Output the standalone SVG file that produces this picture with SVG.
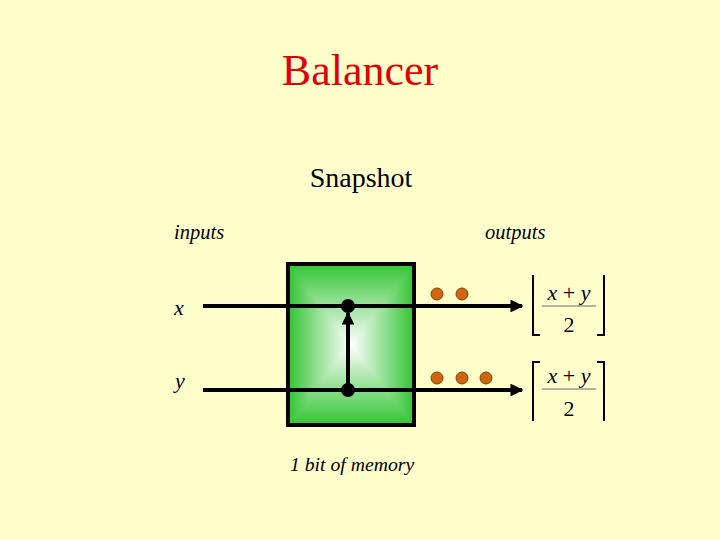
<svg xmlns="http://www.w3.org/2000/svg" width="720" height="540" viewBox="0 0 720 540">
<defs>
<style>
.serif{font-family:"Liberation Serif","Times New Roman",serif}
.it{font-style:italic}
.wire{stroke:#000;stroke-width:4;fill:none}
.br{stroke:#000;stroke-width:2;fill:none}
.dot{fill:#CC6611;stroke:#8a3a00;stroke-width:1}
</style>
<radialGradient id="gC" cx="0.5" cy="0.5" r="0.55"><stop offset="0" stop-color="#ffffff"/><stop offset="1" stop-color="#33C433"/></radialGradient>
<linearGradient id="gT" gradientUnits="userSpaceOnUse" x1="0" y1="264" x2="0" y2="344.5"><stop offset="0" stop-color="#33C433"/><stop offset="1" stop-color="#ffffff"/></linearGradient>
<linearGradient id="gB" gradientUnits="userSpaceOnUse" x1="0" y1="425" x2="0" y2="344.5"><stop offset="0" stop-color="#33C433"/><stop offset="1" stop-color="#ffffff"/></linearGradient>
<linearGradient id="gL" gradientUnits="userSpaceOnUse" x1="288" y1="0" x2="351" y2="0"><stop offset="0" stop-color="#33C433"/><stop offset="1" stop-color="#ffffff"/></linearGradient>
<linearGradient id="gR" gradientUnits="userSpaceOnUse" x1="414" y1="0" x2="351" y2="0"><stop offset="0" stop-color="#33C433"/><stop offset="1" stop-color="#ffffff"/></linearGradient>
<marker id="ah" viewBox="0 0 10 10" refX="9" refY="5" markerWidth="3.2" markerHeight="3.2" orient="auto"><path d="M0,0 L10,5 L0,10 z" fill="#000"/></marker>
</defs>
<rect width="720" height="540" fill="#FFFFCC"/>
<text class="serif" x="360" y="85" font-size="44" fill="#E00000" text-anchor="middle">Balancer</text>
<text class="serif" x="361" y="187" font-size="28" fill="#000" text-anchor="middle">Snapshot</text>
<text class="serif it" x="174" y="239" font-size="20.5">inputs</text>
<text class="serif it" x="485" y="239" font-size="20.5">outputs</text>
<text class="serif it" x="174" y="315" font-size="22">x</text>
<text class="serif it" x="175" y="388" font-size="22">y</text>
<g id="balancer">
<rect x="288" y="264" width="126" height="161" fill="url(#gC)"/>
<polygon points="288,264 414,264 351,344.5" fill="url(#gT)"/>
<polygon points="288,425 414,425 351,344.5" fill="url(#gB)"/>
<polygon points="288,264 288,425 351,344.5" fill="url(#gL)"/>
<polygon points="414,264 414,425 351,344.5" fill="url(#gR)"/>
<rect x="288" y="264" width="126" height="161" fill="none" stroke="#000" stroke-width="4"/>
</g>
<g id="connectors">
<line class="wire" x1="203" y1="306" x2="522" y2="306" marker-end="url(#ah)"/>
<line class="wire" x1="203" y1="390" x2="522" y2="390" marker-end="url(#ah)"/>
<line class="wire" x1="348" y1="390" x2="348" y2="313" stroke-width="3" marker-end="url(#ah)"/>
<circle cx="348" cy="306" r="7" fill="#000"/>
<circle cx="348" cy="390" r="7" fill="#000"/>
</g>
<g id="tokens">
<circle class="dot" cx="437" cy="294" r="6"/>
<circle class="dot" cx="462" cy="294" r="6"/>
<circle class="dot" cx="437" cy="378" r="6"/>
<circle class="dot" cx="462" cy="378" r="6"/>
<circle class="dot" cx="486" cy="378" r="6"/>
</g>
<g id="floor">
<path class="br" d="M540,335 H533 V275"/>
<path class="br" d="M597,335 H604 V275"/>
<text class="serif" font-size="22" x="569" y="300" text-anchor="middle"><tspan font-style="italic">x</tspan> + <tspan font-style="italic">y</tspan></text>
<line x1="542" y1="306" x2="596" y2="306" stroke="#666" stroke-width="1"/>
<text class="serif" font-size="22" x="569" y="332" text-anchor="middle">2</text>
</g>
<g id="ceil">
<path class="br" d="M540,362 H533 V421"/>
<path class="br" d="M597,362 H604 V421"/>
<text class="serif" font-size="22" x="569" y="383" text-anchor="middle"><tspan font-style="italic">x</tspan> + <tspan font-style="italic">y</tspan></text>
<line x1="542" y1="389" x2="596" y2="389" stroke="#666" stroke-width="1"/>
<text class="serif" font-size="22" x="569" y="416" text-anchor="middle">2</text>
</g>
<text class="serif it" x="290" y="471" font-size="19.7">1 bit of memory</text>
</svg>
